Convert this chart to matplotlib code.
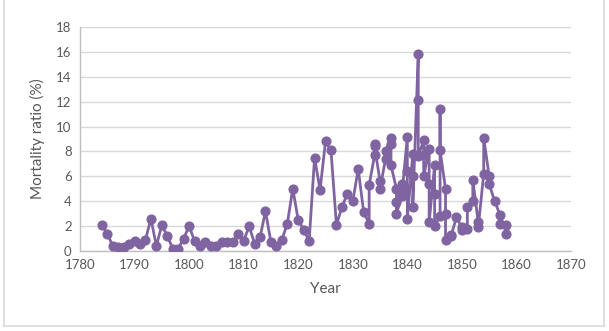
import matplotlib
matplotlib.use("Agg")
import matplotlib.pyplot as plt
from matplotlib.lines import Line2D

# Yearly maternal mortality (%), Vienna General Hospital.
# From 1833 on, several figures per year (whole hospital and the two clinics).
years = [
    1784, 1785, 1786, 1787, 1788, 1789, 1790, 1791, 1792, 1793,
    1794, 1795, 1796, 1797, 1798, 1799, 1800, 1801, 1802, 1803,
    1804, 1805, 1806, 1807, 1808, 1809, 1810, 1811, 1812, 1813,
    1814, 1815, 1816, 1817, 1818, 1819, 1820, 1821, 1822, 1823,
    1824, 1825, 1826, 1827, 1828, 1829, 1830, 1831, 1832,
    1833, 1833,
    1834, 1834, 1834,
    1835, 1835,
    1836, 1836,
    1837, 1837, 1837,
    1838, 1838, 1838,
    1839, 1839, 1839, 1839,
    1840, 1840, 1840,
    1841, 1841, 1841,
    1842, 1842, 1842,
    1843, 1843, 1843,
    1844, 1844, 1844,
    1845, 1845, 1845,
    1846, 1846, 1846,
    1847, 1847, 1847,
    1848, 1848,
    1849,
    1850, 1850,
    1851, 1851,
    1852, 1852,
    1853, 1853,
    1854, 1854,
    1855, 1855,
    1856,
    1857, 1857,
    1858, 1858,
]
mortality = [
    2.1, 1.4, 0.4, 0.3, 0.3, 0.6, 0.8, 0.6, 0.9, 2.6,
    0.4, 2.1, 1.2, 0.2, 0.2, 1.0, 2.0, 0.8, 0.4, 0.7,
    0.4, 0.4, 0.7, 0.7, 0.7, 1.4, 0.8, 2.0, 0.6, 1.1,
    3.2, 0.7, 0.4, 0.9, 2.2, 5.0, 2.5, 1.7, 0.8, 7.5,
    4.9, 8.8, 8.1, 2.1, 3.5, 4.6, 4.0, 6.6, 3.1,
    2.2, 5.3,
    7.7, 8.6, 8.4,
    5.6, 5.0,
    7.4, 8.0,
    9.1, 8.6, 6.9,
    5.0, 3.9, 3.0,
    4.4, 4.9, 5.4, 4.5,
    9.2, 6.4, 2.6,
    7.8, 6.0, 3.5,
    15.8, 12.1, 7.6,
    8.9, 7.7, 6.0,
    8.2, 5.4, 2.3,
    6.9, 4.6, 2.0,
    2.8, 11.4, 8.1,
    5.0, 3.0, 0.9,
    1.3, 1.2,
    2.7,
    1.9, 1.7,
    1.8, 3.5,
    4.0, 5.7,
    2.3, 1.9,
    6.2, 9.1,
    6.0, 5.4,
    4.0,
    2.9, 2.2,
    2.1, 1.4,
]

x_ticks = list(range(1780, 1871, 10))
y_ticks = list(range(0, 19, 2))

purple = "#8064A2"
tick_gray = "#595959"

plt.rcParams["font.family"] = ["Lato", "DejaVu Sans"]

fig = plt.figure(figsize=(6.09, 3.31), dpi=100)
ax = fig.add_axes([80 / 609, 80 / 331, 491 / 609, 224 / 331])

ax.plot(years, mortality, color=purple, linewidth=2.0,
        marker="o", markersize=6.3, markerfacecolor=purple,
        markeredgecolor=purple, zorder=3)

ax.set_xlim(x_ticks[0], x_ticks[-1])
ax.set_ylim(y_ticks[0], y_ticks[-1])
ax.set_xticks(x_ticks)
ax.set_yticks(y_ticks)
ax.tick_params(axis="both", length=0, labelsize=9.5, colors=tick_gray, pad=6)

ax.grid(axis="y", color="#D9D9D9", linewidth=1.0, zorder=0)
ax.set_axisbelow(True)
for side in ("top", "right"):
    ax.spines[side].set_visible(False)
ax.spines["left"].set_color("#BFBFBF")
ax.spines["bottom"].set_color("#BFBFBF")
ax.spines["left"].set_linewidth(1.0)
ax.spines["bottom"].set_linewidth(1.0)

ax.set_xlabel("Year", fontsize=11, color=tick_gray, labelpad=8)
ax.set_ylabel("Mortality ratio (%)", fontsize=11, color=tick_gray, labelpad=8)

# Light frame around the chart area
W, H = 609, 331
frame = dict(color="#D9D9D9", linewidth=1.2, transform=fig.transFigure)
fig.add_artist(Line2D([4 / W, 4 / W], [1, 5 / H], **frame))
fig.add_artist(Line2D([604 / W, 604 / W], [1, 5 / H], **frame))
fig.add_artist(Line2D([4 / W, 604 / W], [5 / H, 5 / H], **frame))

fig.savefig("out.png", dpi=100)
